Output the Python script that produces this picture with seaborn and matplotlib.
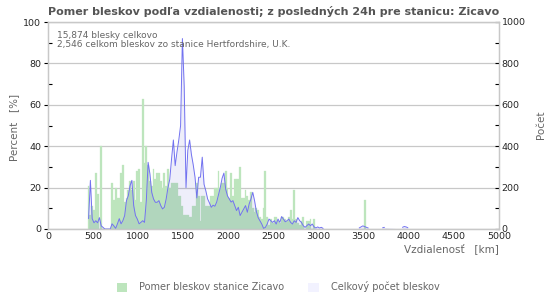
import numpy as np
import pandas as pd
import matplotlib
matplotlib.use("Agg")
import matplotlib.pyplot as plt
import seaborn as sns
from matplotlib.patches import Patch
from matplotlib.ticker import MultipleLocator

# 20 km bins, left edge of each bin [km]
km = list(range(440, 2980, 20))

# green bars: share of strikes seen by the station [%]
pomer = [21, 7, 11, 9, 27, 17, 0, 40, 0, 0, 0, 0, 0,
         22, 14, 20, 15, 15, 27, 31, 13, 15, 19, 23, 19, 23, 14, 28, 29, 13,
         63, 32, 40, 31, 23, 21, 29, 24, 27, 27, 23, 20, 27, 21, 29, 20, 22,
         22, 22, 22, 16, 16, 11, 7, 7, 7, 6, 6, 11, 11, 22, 16, 4, 16, 16,
         11, 11, 11, 16, 16, 20, 20, 28, 20, 22, 22, 28, 20,
         15, 27, 16, 24, 24, 24, 30, 15, 15, 19, 16, 14, 18, 10, 8, 10, 9,
         6, 5, 10, 28, 6, 2, 5, 3, 6, 6, 4, 3, 6, 6, 5, 4, 6, 9, 5, 19, 5,
         3, 2, 4, 6, 0, 4, 4, 5, 0, 5, 0]

# blue line: total strikes per bin
pocet = [50, 235, 50, 30, 40, 30, 55, 15, 8, 0, 0, 0, 0,
         25, 15, 3, 25, 50, 25, 40, 65, 137, 160, 210, 235, 113, 65, 48, 25, 32,
         40, 32, 137, 322, 266, 177, 145, 129, 129, 137, 113, 97, 105, 145, 200, 240, 340,
         430, 306, 372, 430, 500, 920, 690, 200, 380, 430, 360, 310, 250, 150, 250, 250,
         347, 216, 184, 145, 126, 105, 115, 110, 130, 165, 200, 245, 270, 192, 160,
         145, 130, 137, 113, 89, 105, 65, 81, 97, 113, 81, 121, 145, 177, 137, 85, 55,
         40, 24, 3, 8, 24, 48, 40, 32, 40, 24, 48, 32, 60, 48, 35, 40, 48, 32, 24, 40, 32,
         55, 40, 32, 16, 8, 16, 24, 16, 24, 10, 5]

# sparse far bins (None = no strikes in that bin)
far_km = [3500]
far_pomer = [14]
tail_km = [2980, 3000, 3020, 3040, 3060, 3080, 3100, 3420, 3440, 3460, 3480, 3500,
           3520, 3540, 3560, 3680, 3700, 3720, 3900, 3920, 3940, 3960, 3980]
tail_pocet = [10, 5, 8, 3, None, None, None, None, 5, 10, 15, 12, 8, 5, None,
              None, 6, 8, None, 8, 12, 10, 6]

bars = pd.DataFrame({"km": km + far_km, "pomer": pomer + far_pomer})
bars["mid"] = bars["km"] + 10
line = pd.DataFrame({"km": km + tail_km, "pocet": pocet + tail_pocet}, dtype=float)
line["mid"] = line["km"] + 10

green = "#bde5bd"
lav = "#f2f2ff"
blue = "#7272f0"
gray = "#666666"
frame = "#c8c8c8"

sns.set_style("white")
plt.rcParams["font.family"] = ["DejaVu Sans"]

fig = plt.figure(figsize=(5.5, 3), dpi=100)
ax = fig.add_axes([48 / 550, 1 - 229 / 300, 451 / 550, 207 / 300])

sns.barplot(data=bars, x="mid", y="pomer", native_scale=True, width=1.0,
            color=green, saturation=1, edgecolor=green, linewidth=0.2,
            errorbar=None, ax=ax)
ax.set_xlim(0, 5000)
ax.set_ylim(0, 100)
ax.yaxis.set_major_locator(MultipleLocator(20))
ax.yaxis.set_minor_locator(MultipleLocator(10))
ax.xaxis.set_major_locator(MultipleLocator(500))
ax.xaxis.set_minor_locator(MultipleLocator(100))
ax.grid(axis="y", color=frame, linewidth=0.9)
ax.set_axisbelow(True)
ax.set_xlabel("")
ax.set_ylabel("")
for s in ax.spines.values():
    s.set_color(frame)
    s.set_linewidth(0.9)
ax.tick_params(axis="y", which="major", direction="out", length=3, width=0.8,
               color="black", labelsize=6.8, pad=2)
ax.tick_params(axis="y", which="minor", direction="in", length=3, width=0.8, color="black")
ax.tick_params(axis="x", which="both", direction="in", length=3, width=0.8,
               color="black", labelsize=6.8, pad=2)

ax2 = ax.twinx()
ax2.fill_between(line["mid"], line["pocet"].fillna(0), 0, color="#3030c0",
                 alpha=0.08, linewidth=0)
# plain plot keeps the gaps where a bin has no strikes
ax2.plot(line["mid"], line["pocet"], color=blue, linewidth=0.7)
ax2.set_ylim(0, 1000)
ax2.set_xlim(0, 5000)
ax2.yaxis.set_major_locator(MultipleLocator(200))
ax2.yaxis.set_minor_locator(MultipleLocator(100))
ax2.set_ylabel("")
ax2.set_xlabel("")
for s in ax2.spines.values():
    s.set_color(frame)
    s.set_linewidth(0.9)
ax2.tick_params(axis="y", which="both", direction="in", length=3, width=0.8,
                color="black", labelsize=6.8, pad=2)

ax.set_title("Pomer bleskov podľa vzdialenosti; z posledných 24h pre stanicu: Zicavo",
             fontsize=8, fontweight="bold", color="#555555", pad=5)

fig.text(57 / 550, 1 - 35 / 300, "15,874 blesky celkovo", fontsize=6.5,
         color=gray, va="center")
fig.text(57 / 550, 1 - 45 / 300, "2,546 celkom bleskov zo stanice Hertfordshire, U.K.",
         fontsize=6.5, color=gray, va="center")

fig.text(14 / 550, 1 - 127 / 300, "Percent   [%]", rotation=90, fontsize=7.5,
         color=gray, va="center", ha="center")
fig.text(541 / 550, 1 - 125 / 300, "Počet", rotation=90, fontsize=7.5,
         color=gray, va="center", ha="center")
fig.text(499 / 550, 1 - 250 / 300, "Vzdialenosť   [km]", fontsize=7.5,
         color=gray, va="center", ha="right")

handles = [Patch(facecolor=green, edgecolor="none"), Patch(facecolor=lav, edgecolor="none")]
fig.legend(handles, ["Pomer bleskov stanice Zicavo", "Celkový počet bleskov"],
           loc="center", bbox_to_anchor=(278 / 550, 1 - 287 / 300), ncol=2,
           frameon=False, fontsize=7, labelcolor=gray, handlelength=1.1,
           handleheight=1.1, handletextpad=1.2, columnspacing=2.5)

fig.savefig("out.png", dpi=100)
plt.close(fig)
